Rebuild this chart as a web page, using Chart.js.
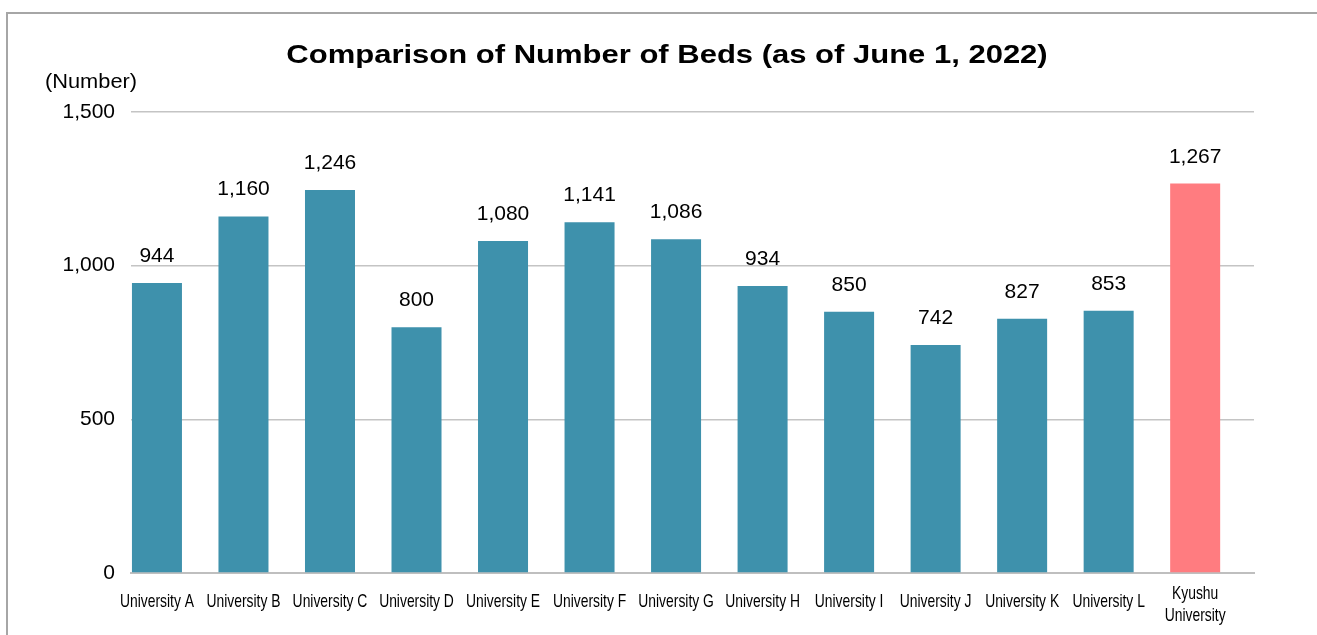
<!DOCTYPE html>
<html>
<head>
<meta charset="utf-8">
<script src="https://cdn.jsdelivr.net/npm/chart.js@4"></script>
<style>
  html, body { margin: 0; padding: 0; background: #fff; }
  #wrap { position: relative; width: 1317px; height: 635px; overflow: hidden; }
  #frame { position: absolute; left: 6px; top: 12px; width: 1400px; height: 700px;
           border-left: 2px solid #a6a6a6; border-top: 2px solid #a6a6a6; }
  #beds_chart { position: absolute; left: 0; top: 0; }
</style>
</head>
<body>
<div id="wrap">
  <div id="frame"></div>
  <canvas id="beds_chart" width="1317" height="635"></canvas>
</div>
<script>
// data
const universities = [
    'University A', 'University B', 'University C', 'University D', 'University E',
    'University F', 'University G', 'University H', 'University I', 'University J',
    'University K', 'University L', ['Kyushu', 'University']
];
const beds = [944, 1160, 1246, 800, 1080, 1141, 1086, 934, 850, 742, 827, 853, 1267];
const barColors = [
    '#3e91ac', '#3e91ac', '#3e91ac', '#3e91ac', '#3e91ac', '#3e91ac', '#3e91ac',
    '#3e91ac', '#3e91ac', '#3e91ac', '#3e91ac', '#3e91ac', '#ff7c80'
];
const yTicks = [0, 500, 1000, 1500];

const titleText = 'Comparison of Number of Beds (as of June 1, 2022)';
const unitText = '(Number)';

// bars sit on index positions of a linear x axis
let barPoints = beds.map(function(v, i) { return { x: i, y: v }; });

function stretchedText(ctx, text, x, y, sx) {
    ctx.save();
    ctx.translate(x, y);
    ctx.scale(sx, 1);
    ctx.fillText(text, 0, 0);
    ctx.restore();
}

// title, unit, value labels and the narrow category labels
const extraText = {
    id: 'extraText',
    afterDatasetsDraw(chart) {
        const ctx = chart.ctx;
        ctx.save();
        ctx.fillStyle = '#000';
        ctx.textAlign = 'center';
        ctx.textBaseline = 'alphabetic';

        ctx.font = 'bold 25px "Liberation Sans", Arial, sans-serif';
        stretchedText(ctx, titleText, 667, 63, 1.24);
        ctx.font = '20px "Liberation Sans", Arial, sans-serif';
        stretchedText(ctx, unitText, 91, 88, 1.09);

        ctx.font = '21px "Liberation Sans", Arial, sans-serif';
        const meta = chart.getDatasetMeta(0);
        meta.data.forEach(function(bar, i) {
            ctx.fillText(beds[i].toLocaleString('en-US'), bar.x, bar.y - 21);
        });

        const xScale = chart.scales.x;
        ctx.font = '19px "Liberation Sans", Arial, sans-serif';
        universities.forEach(function(label, i) {
            const px = xScale.getPixelForValue(i);
            if (Array.isArray(label)) {
                stretchedText(ctx, label[0], px, 599, 0.73);
                stretchedText(ctx, label[1], px, 621, 0.73);
            } else {
                stretchedText(ctx, label, px, 607, 0.73);
            }
        });
        ctx.restore();
    }
};

const chart_canvas = document.getElementById('beds_chart').getContext('2d');
const beds_chart = new Chart(
    chart_canvas,
    {
        type: 'bar',
        data: {
            datasets: [
                {
                    data: barPoints,
                    backgroundColor: barColors,
                    borderWidth: 0,
                    categoryPercentage: 1,
                    barPercentage: 0.578
                }
            ]
        },
        options: {
            responsive: false,
            animation: false,
            layout: {
                padding: { top: 112, right: 63, left: 0, bottom: 0 }
            },
            plugins: {
                legend: { display: false },
                tooltip: { enabled: false },
                title: { display: false }
            },
            scales: {
                x: {
                    type: 'linear',
                    offset: false,
                    min: -0.3,
                    max: 12.68,
                    afterBuildTicks: function(scale) {
                        scale.ticks = universities.map(function(u, i) { return { value: i }; });
                    },
                    grid: { display: false, drawTicks: false, offset: false },
                    border: { display: true, color: '#bfbfbf', width: 2 },
                    ticks: { display: false },
                    afterFit: function(scale) { scale.height = 62; }
                },
                y: {
                    min: 0,
                    max: 1500,
                    afterBuildTicks: function(scale) {
                        scale.ticks = yTicks.map(function(v) { return { value: v }; });
                    },
                    grid: { color: '#c4c4c4', lineWidth: 1.5, drawTicks: false },
                    border: { display: false },
                    ticks: {
                        color: '#000',
                        padding: 16,
                        font: { family: '"Liberation Sans", Arial, sans-serif', size: 21 },
                        callback: function(v) { return v.toLocaleString('en-US'); }
                    },
                    afterFit: function(scale) { scale.width = 131; }
                }
            }
        },
        plugins: [extraText]
    }
);
</script>
</body>
</html>
